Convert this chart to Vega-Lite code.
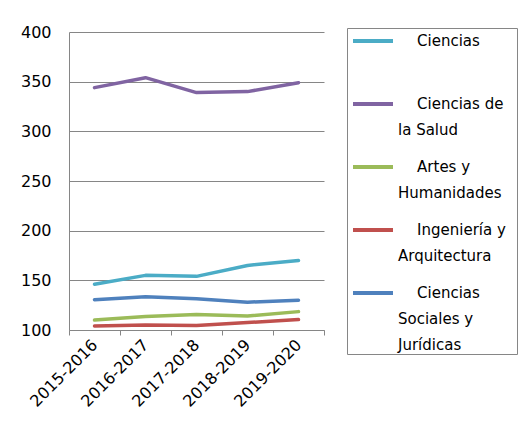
{
  "$schema": "https://vega.github.io/schema/vega-lite/v6.json",
  "width": 255,
  "height": 298,
  "autosize": {"type": "none"},
  "padding": {"left": 69, "top": 32, "right": 200, "bottom": 98},
  "background": "white",
  "config": {
    "font": "DejaVu Sans",
    "view": {"stroke": null},
    "style": {"guide-label": {"lineHeight": 26}}
  },
  "data": {
    "values": [
      {"curso": "2015-2016", "rama": "Ciencias", "valor": 146},
      {"curso": "2016-2017", "rama": "Ciencias", "valor": 155},
      {"curso": "2017-2018", "rama": "Ciencias", "valor": 154},
      {"curso": "2018-2019", "rama": "Ciencias", "valor": 165},
      {"curso": "2019-2020", "rama": "Ciencias", "valor": 170},
      {"curso": "2015-2016", "rama": "Ciencias de la Salud", "valor": 344},
      {"curso": "2016-2017", "rama": "Ciencias de la Salud", "valor": 354},
      {"curso": "2017-2018", "rama": "Ciencias de la Salud", "valor": 339},
      {"curso": "2018-2019", "rama": "Ciencias de la Salud", "valor": 340},
      {"curso": "2019-2020", "rama": "Ciencias de la Salud", "valor": 349},
      {"curso": "2015-2016", "rama": "Artes y Humanidades", "valor": 110},
      {"curso": "2016-2017", "rama": "Artes y Humanidades", "valor": 113.5},
      {"curso": "2017-2018", "rama": "Artes y Humanidades", "valor": 115.5},
      {"curso": "2018-2019", "rama": "Artes y Humanidades", "valor": 114},
      {"curso": "2019-2020", "rama": "Artes y Humanidades", "valor": 118.5},
      {"curso": "2015-2016", "rama": "Ingeniería y Arquitectura", "valor": 104},
      {"curso": "2016-2017", "rama": "Ingeniería y Arquitectura", "valor": 105},
      {"curso": "2017-2018", "rama": "Ingeniería y Arquitectura", "valor": 104.5},
      {"curso": "2018-2019", "rama": "Ingeniería y Arquitectura", "valor": 107.5},
      {"curso": "2019-2020", "rama": "Ingeniería y Arquitectura", "valor": 110.5},
      {"curso": "2015-2016", "rama": "Ciencias Sociales y Jurídicas", "valor": 130.5},
      {"curso": "2016-2017", "rama": "Ciencias Sociales y Jurídicas", "valor": 133.5},
      {"curso": "2017-2018", "rama": "Ciencias Sociales y Jurídicas", "valor": 131.5},
      {"curso": "2018-2019", "rama": "Ciencias Sociales y Jurídicas", "valor": 128},
      {"curso": "2019-2020", "rama": "Ciencias Sociales y Jurídicas", "valor": 130}
    ]
  },
  "mark": {"type": "line", "strokeWidth": 3.5, "strokeCap": "round", "strokeJoin": "round"},
  "encoding": {
    "x": {
      "field": "curso",
      "type": "nominal",
      "scale": {"type": "band", "paddingInner": 0, "paddingOuter": 0},
      "axis": {
        "title": null,
        "labelAngle": -45,
        "labelAlign": "right",
        "labelBaseline": "middle",
        "labelFontSize": 16,
        "labelColor": "#000000",
        "tickBand": "extent",
        "tickSize": 5,
        "tickColor": "#868686",
        "domainColor": "#868686",
        "labelPadding": 7,
        "grid": false
      }
    },
    "y": {
      "field": "valor",
      "type": "quantitative",
      "scale": {"domain": [100, 400], "nice": false, "zero": false},
      "axis": {
        "title": null,
        "values": [100, 150, 200, 250, 300, 350, 400],
        "ticks": false,
        "labelPadding": 18,
        "labelFontSize": 16,
        "labelColor": "#000000",
        "gridColor": "#868686",
        "domainColor": "#868686"
      }
    },
    "color": {
      "field": "rama",
      "type": "nominal",
      "scale": {
        "domain": ["Ciencias", "Ciencias de la Salud", "Artes y Humanidades", "Ingeniería y Arquitectura", "Ciencias Sociales y Jurídicas"],
        "range": ["#4BACC6", "#8064A2", "#9BBB59", "#C0504D", "#4F81BD"]
      },
      "legend": {
        "title": null,
        "orient": "none",
        "legendX": 278,
        "legendY": -4,
        "symbolType": "M-2,0H2",
        "symbolSize": 400,
        "symbolStrokeWidth": 4,
        "symbolOffset": 13,
        "labelFontSize": 15,
        "labelColor": "#000000",
        "labelOffset": 13,
        "labelBaseline": "middle",
        "labelLimit": 250,
        "rowPadding": 17,
        "padding": 1,
        "strokeColor": "#868686",
        "labelExpr": "datum.label == 'Ciencias' ? ['\u200b\u00a0\u00a0\u00a0\u00a0Ciencias', ''] : datum.label == 'Ciencias de la Salud' ? ['\u200b\u00a0\u00a0\u00a0\u00a0Ciencias de', 'la Salud'] : datum.label == 'Artes y Humanidades' ? ['\u200b\u00a0\u00a0\u00a0\u00a0Artes y', 'Humanidades\u00a0\u00a0\u00a0\u200b'] : datum.label == 'Ingeniería y Arquitectura' ? ['\u200b\u00a0\u00a0\u00a0\u00a0Ingeniería y', 'Arquitectura'] : ['\u200b\u00a0\u00a0\u00a0\u00a0Ciencias', 'Sociales y', 'Jurídicas']"
      }
    }
  }
}
